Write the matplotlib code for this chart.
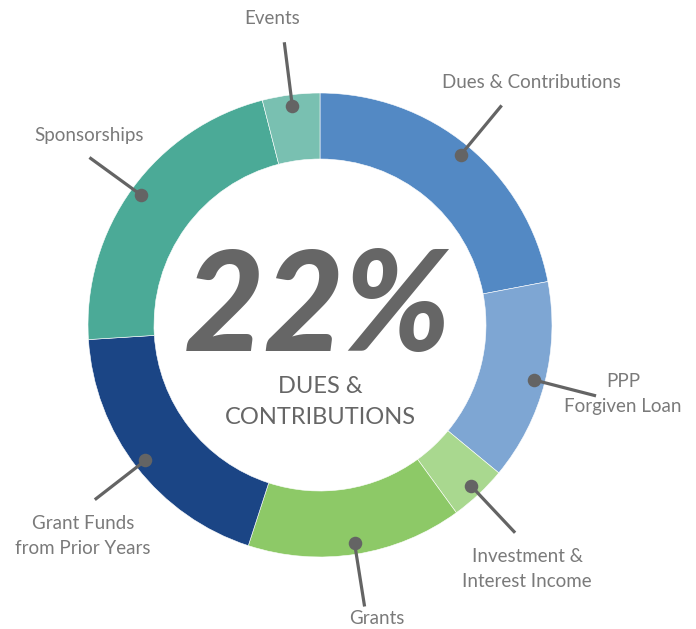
import matplotlib.pyplot as plt
import numpy as np

# data
labels = ["Dues & Contributions", "PPP\nForgiven Loan", "Investment &\nInterest Income",
          "Grants", "Grant Funds\nfrom Prior Years", "Sponsorships", "Events"]
shares = [22, 14, 4, 15, 19, 22, 4]
colors = ["#5389C4", "#7EA6D3", "#A9D88F", "#8DC967", "#1B4585", "#4BAA97", "#79C0B1"]
big_value = "22%"
big_caption = "DUES &\nCONTRIBUTIONS"

# label anchors in pixel coords (x, y from top)
label_pos = [(531, 83), (623, 394), (527, 569), (377, 618), (83, 536), (89, 135), (272, 18)]

W, H = 696, 629
cx, cy = 320, H - 325
R, ring = 232, 66
gray = "#646464"
txt = "#7a7a7a"

plt.rcParams['font.family'] = ['Lato', 'DejaVu Sans']
fig = plt.figure(figsize=(W / 100, H / 100), dpi=100)
ax = fig.add_axes([0, 0, 1, 1])
ax.set_xlim(0, W)
ax.set_ylim(0, H)
ax.set_aspect('equal')
ax.axis('off')

wedges, _ = ax.pie(shares, colors=colors, startangle=90, counterclock=False,
                   center=(cx, cy), radius=R,
                   wedgeprops=dict(width=ring, edgecolor='white', linewidth=0.4))
ax.set_xlim(0, W)
ax.set_ylim(0, H)

for w, lab, (lx, ly) in zip(wedges, labels, label_pos):
    a = np.deg2rad((w.theta1 + w.theta2) / 2)
    x0, y0 = cx + 221 * np.cos(a), cy + 221 * np.sin(a)
    x1, y1 = cx + 285 * np.cos(a), cy + 285 * np.sin(a)
    ax.plot([x0, x1], [y0, y1], color=gray, lw=2.3, solid_capstyle='butt', zorder=3)
    ax.scatter([x0], [y0], s=95, color=gray, zorder=4, linewidths=0)
    ax.text(lx, H - ly, lab, ha='center', va='center', fontsize=13.5, color=txt,
            linespacing=1.55)

ax.text(cx - 2, H - 311, big_value, ha='center', va='center', fontsize=100,
        fontweight='black', fontstyle='italic', color="#666666")
ax.text(cx, H - 402, big_caption, ha='center', va='center', fontsize=17,
        color="#666666", linespacing=1.6)

fig.savefig("out.png", dpi=100)
